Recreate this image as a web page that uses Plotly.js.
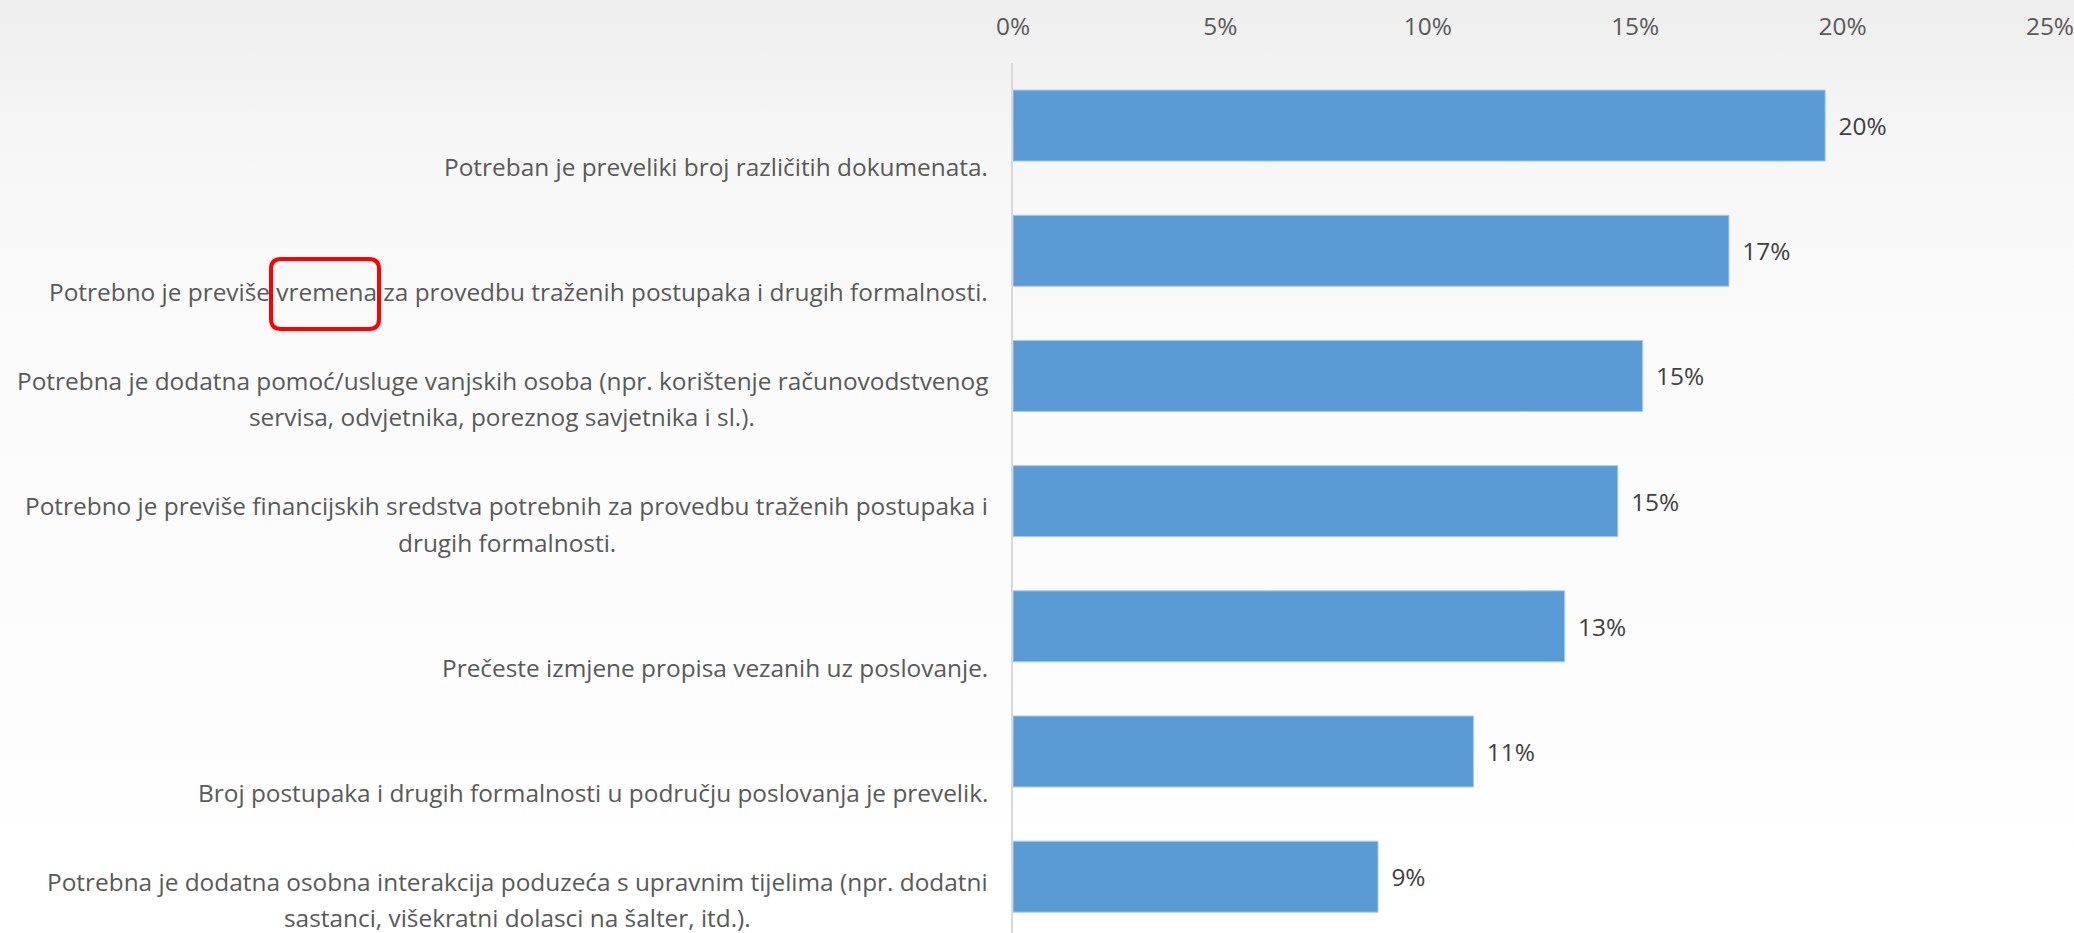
<!DOCTYPE html>
<html>
<head>
<meta charset="utf-8">
<script src="https://cdn.plot.ly/plotly-3.0.1.min.js"></script>
<style>
  html, body { margin: 0; padding: 0; }
  body { background: linear-gradient(to bottom, #eeeeee 0%, #f7f7f7 18%, #fbfbfb 45%, #fdfdfd 80%, #ffffff 93%); }
  #chart { width: 2074px; height: 933px; }
</style>
</head>
<body>
<div id="chart"></div>
<script>
const categories = [
  "Potreban je preveliki broj različitih dokumenata.",
  "Potrebno je previše vremena za provedbu traženih postupaka i drugih formalnosti.",
  "Potrebna je dodatna pomoć/usluge vanjskih osoba (npr. korištenje računovodstvenog<br>servisa, odvjetnika, poreznog savjetnika i sl.).",
  "Potrebno je previše financijskih sredstva potrebnih za provedbu traženih postupaka i<br>drugih formalnosti.",
  "Prečeste izmjene propisa vezanih uz poslovanje.",
  "Broj postupaka i drugih formalnosti u području poslovanja je prevelik.",
  "Potrebna je dodatna osobna interakcija poduzeća s upravnim tijelima (npr. dodatni<br>sastanci, višekratni dolasci na šalter, itd.)."
];
const shares = [0.1958, 0.1726, 0.1518, 0.1458, 0.1330, 0.1110, 0.0880];

const labelFont = 'Open Sans';
const labelSize = 24.4;

// measure text so multi-line labels stay centred under each other
const ctx = document.createElement('canvas').getContext('2d');
ctx.font = labelSize + 'px "' + labelFont + '"';

const annotations = [];
categories.forEach((cat) => {
  const lines = cat.split('<br>');
  const blockW = Math.max(...lines.map((l) => ctx.measureText(l).width));
  lines.forEach((line, k) => {
    const fromBottom = lines.length - 1 - k;
    annotations.push({
      text: line,
      xref: 'paper', x: 0,
      xanchor: 'center',
      xshift: -25 - blockW / 2,
      yref: 'y', y: cat,
      yanchor: 'middle',
      yshift: -(41 - fromBottom * 36.5),
      showarrow: false,
      font: { family: labelFont, size: labelSize, color: '#595959' }
    });
  });
});

// rounded red box around "vremena" (pixels from the top-left corner of the plot area)
function roundedBox(x0, x1, yTop, yBot, r) {
  return `M${x0 + r},${yTop} L${x1 - r},${yTop} Q${x1},${yTop} ${x1},${yTop - r} ` +
    `L${x1},${yBot + r} Q${x1},${yBot} ${x1 - r},${yBot} L${x0 + r},${yBot} ` +
    `Q${x0},${yBot} ${x0},${yBot + r} L${x0},${yTop - r} Q${x0},${yTop} ${x0 + r},${yTop} Z`;
}

const barTrace = {
  type: 'bar',
  orientation: 'h',
  x: shares,
  y: categories,
  marker: { color: '#5b9bd5', line: { color: '#a9c9ec', width: 1 } },
  texttemplate: '\u00a0\u2009%{x:.0%}',
  textposition: 'outside',
  textfont: { family: labelFont, size: labelSize, color: '#404040' },
  cliponaxis: false,
  hoverinfo: 'skip'
};

const layout = {
  width: 2074,
  height: 933,
  margin: { l: 1013, r: 24, t: 63, b: 0 },
  paper_bgcolor: 'rgba(0,0,0,0)',
  plot_bgcolor: 'rgba(0,0,0,0)',
  showlegend: false,
  bargap: 0.433,
  xaxis: {
    side: 'top',
    range: [0, 0.25],
    dtick: 0.05,
    tickformat: '.0%',
    showgrid: false,
    zeroline: false,
    showline: false,
    ticks: '',
    ticklabelstandoff: 22,
    ticklabeloverflow: 'allow',
    tickfont: { family: labelFont, size: labelSize, color: '#595959' }
  },
  yaxis: {
    type: 'category',
    range: [6.45, -0.5],
    showticklabels: false,
    showgrid: false,
    zeroline: false,
    showline: true,
    linecolor: '#d9d9d9',
    linewidth: 2,
    ticks: ''
  },
  annotations: annotations,
  shapes: [{
    type: 'path',
    xref: 'paper', xsizemode: 'pixel', xanchor: 0,
    yref: 'paper', ysizemode: 'pixel', yanchor: 1,
    path: roundedBox(-742, -634, -196, -266, 10),
    line: { color: '#ff0000', width: 4 },
    layer: 'above'
  }]
};

Plotly.newPlot('chart', [barTrace], layout, { displayModeBar: false, staticPlot: true });
</script>
</body>
</html>
